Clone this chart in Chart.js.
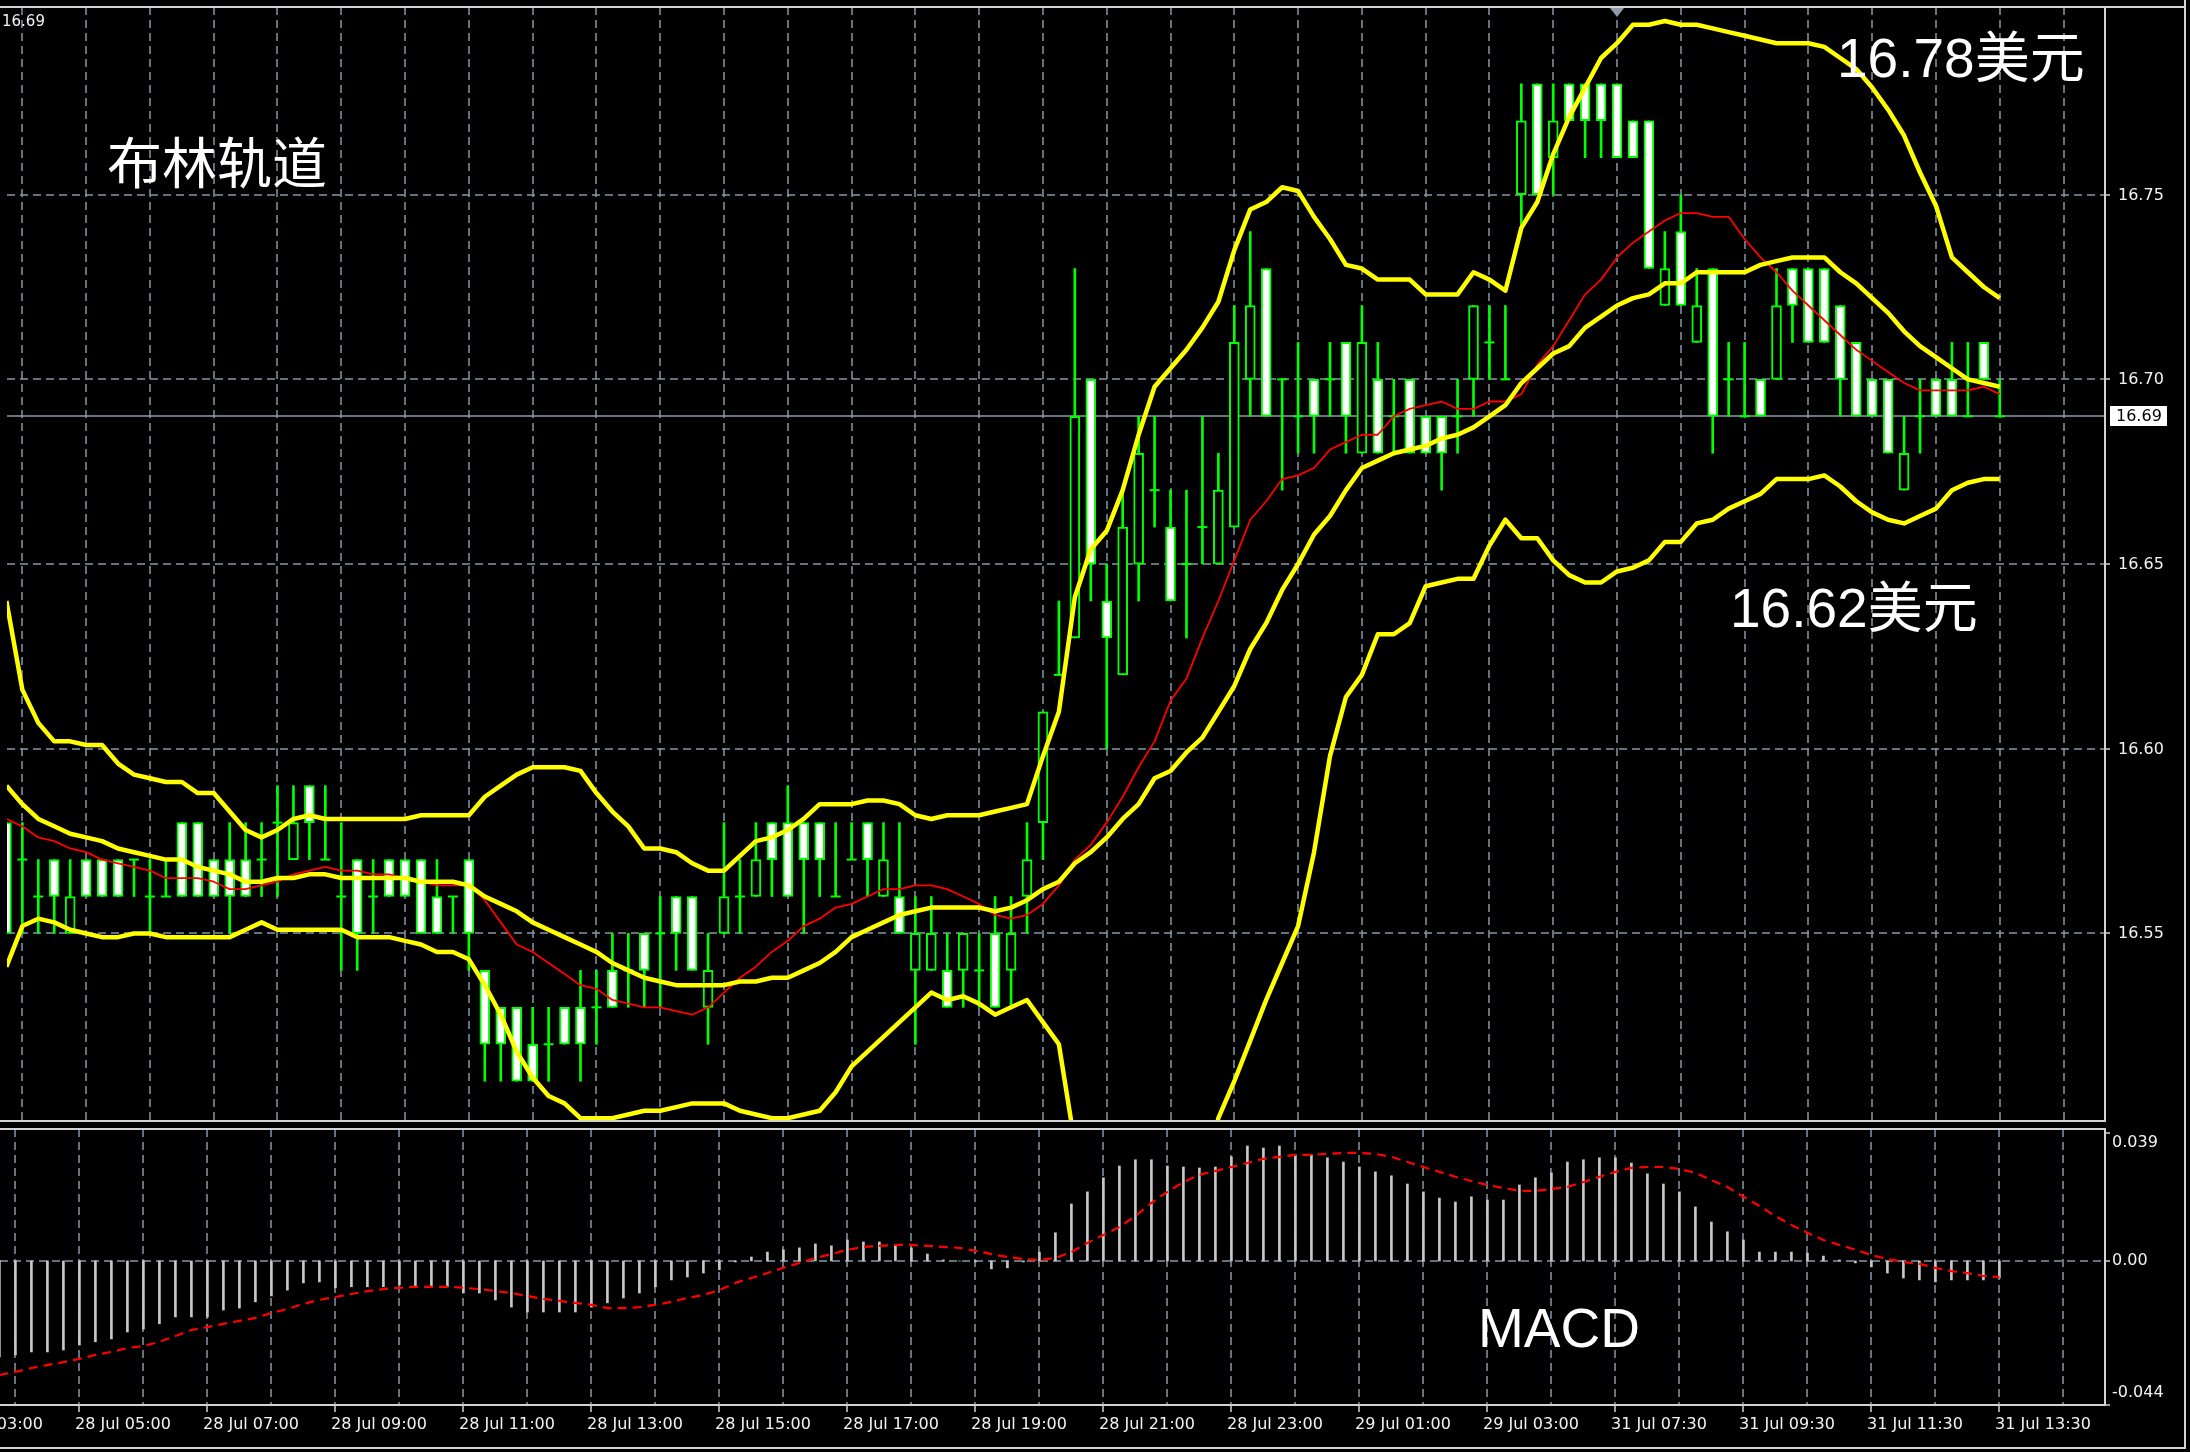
<!DOCTYPE html>
<html>
<head>
<meta charset="utf-8">
<title>XAGUSD M15 布林轨道 / MACD</title>
<script src="https://cdn.jsdelivr.net/npm/chart.js@4.4.1/dist/chart.umd.min.js"></script>
<style>
  html, body { margin: 0; padding: 0; background: #000; }
  body { width: 2190px; height: 1452px; position: relative; overflow: hidden; }
  canvas { position: absolute; left: 0; }
  #main { top: 0; width: 2190px; height: 1127px; }
  #macd { top: 1127px; width: 2190px; height: 325px; }
</style>
</head>
<body>
<canvas id="main" width="2190" height="1127"></canvas>
<canvas id="macd" width="2190" height="325"></canvas>
<script>
// 15-minute bars, oldest first
const open = [
  16.58,16.57,16.56,16.57,16.55,16.57,16.57,16.57,16.57,16.56,
  16.56,16.58,16.58,16.57,16.57,16.57,16.57,16.58,16.57,16.59,
  16.57,16.56,16.57,16.56,16.57,16.57,16.57,16.56,16.56,16.57,
  16.54,16.53,16.53,16.52,16.52,16.53,16.53,16.53,16.54,16.54,
  16.55,16.55,16.56,16.56,16.53,16.55,16.56,16.56,16.58,16.58,
  16.58,16.58,16.56,16.57,16.58,16.56,16.56,16.54,16.54,16.54,
  16.54,16.54,16.55,16.54,16.56,16.58,16.62,16.63,16.70,16.64,
  16.62,16.65,16.67,16.66,16.65,16.66,16.65,16.66,16.70,16.73,
  16.70,16.69,16.70,16.70,16.71,16.68,16.70,16.69,16.70,16.69,
  16.69,16.69,16.70,16.71,16.70,16.75,16.78,16.76,16.78,16.78,
  16.78,16.78,16.77,16.77,16.72,16.74,16.71,16.73,16.70,16.69,
  16.70,16.70,16.73,16.73,16.73,16.72,16.71,16.70,16.70,16.67,
  16.69,16.70,16.70,16.69,16.71,16.69
];
const high = [
  16.58,16.58,16.57,16.57,16.57,16.57,16.57,16.57,16.57,16.57,
  16.57,16.58,16.58,16.57,16.58,16.58,16.58,16.59,16.59,16.59,
  16.59,16.58,16.57,16.57,16.57,16.57,16.57,16.57,16.56,16.57,
  16.54,16.53,16.53,16.53,16.53,16.53,16.54,16.54,16.55,16.55,
  16.55,16.56,16.56,16.56,16.55,16.58,16.57,16.58,16.58,16.59,
  16.58,16.58,16.58,16.58,16.58,16.58,16.58,16.56,16.56,16.55,
  16.55,16.55,16.56,16.56,16.58,16.61,16.64,16.73,16.70,16.65,
  16.67,16.69,16.69,16.67,16.67,16.69,16.68,16.72,16.74,16.73,
  16.70,16.71,16.70,16.71,16.71,16.72,16.71,16.70,16.70,16.69,
  16.69,16.70,16.72,16.72,16.72,16.78,16.78,16.78,16.78,16.78,
  16.78,16.78,16.77,16.77,16.74,16.75,16.73,16.73,16.71,16.71,
  16.70,16.73,16.73,16.73,16.73,16.72,16.71,16.70,16.70,16.69,
  16.70,16.70,16.71,16.71,16.71,16.70
];
const low = [
  16.55,16.55,16.55,16.55,16.55,16.56,16.56,16.56,16.56,16.55,
  16.56,16.56,16.56,16.56,16.55,16.56,16.56,16.56,16.57,16.57,
  16.57,16.54,16.54,16.55,16.56,16.56,16.55,16.55,16.55,16.54,
  16.51,16.51,16.51,16.51,16.51,16.52,16.51,16.52,16.53,16.53,
  16.53,16.53,16.54,16.54,16.52,16.55,16.55,16.56,16.56,16.56,
  16.55,16.56,16.56,16.57,16.56,16.56,16.55,16.52,16.54,16.53,
  16.53,16.53,16.53,16.53,16.55,16.57,16.62,16.63,16.64,16.60,
  16.62,16.64,16.66,16.64,16.63,16.65,16.65,16.66,16.69,16.69,
  16.67,16.68,16.68,16.69,16.68,16.68,16.68,16.68,16.68,16.68,
  16.67,16.68,16.69,16.70,16.70,16.74,16.75,16.75,16.77,16.76,
  16.76,16.76,16.76,16.73,16.72,16.72,16.71,16.68,16.69,16.69,
  16.69,16.70,16.71,16.71,16.71,16.69,16.69,16.69,16.68,16.67,
  16.68,16.69,16.69,16.69,16.70,16.69
];
const close = [
  16.55,16.57,16.56,16.56,16.56,16.56,16.56,16.56,16.57,16.56,
  16.56,16.56,16.56,16.56,16.56,16.56,16.57,16.58,16.58,16.58,
  16.57,16.56,16.55,16.56,16.56,16.56,16.55,16.55,16.56,16.55,
  16.52,16.52,16.51,16.51,16.52,16.52,16.52,16.53,16.53,16.54,
  16.54,16.55,16.55,16.54,16.54,16.56,16.56,16.57,16.57,16.56,
  16.57,16.57,16.56,16.57,16.57,16.57,16.55,16.55,16.55,16.53,
  16.55,16.54,16.53,16.55,16.57,16.61,16.62,16.69,16.65,16.63,
  16.66,16.68,16.67,16.64,16.65,16.66,16.67,16.71,16.72,16.69,
  16.70,16.69,16.69,16.70,16.69,16.71,16.68,16.69,16.68,16.68,
  16.68,16.69,16.72,16.71,16.70,16.77,16.75,16.77,16.77,16.77,
  16.77,16.76,16.76,16.73,16.73,16.72,16.72,16.69,16.70,16.69,
  16.69,16.72,16.72,16.71,16.71,16.70,16.69,16.69,16.68,16.68,
  16.69,16.69,16.69,16.69,16.70,16.69
];

// Bollinger bands (yellow) and the thin red moving average
const upperBand = [
  16.640,16.616,16.607,16.602,16.602,16.601,16.601,16.596,16.593,16.592,
  16.591,16.591,16.588,16.588,16.583,16.578,16.576,16.578,16.581,16.582,
  16.581,16.581,16.581,16.581,16.581,16.581,16.582,16.582,16.582,16.582,
  16.587,16.590,16.593,16.595,16.595,16.595,16.594,16.588,16.583,16.579,
  16.573,16.573,16.572,16.569,16.567,16.567,16.571,16.575,16.576,16.578,
  16.581,16.585,16.585,16.585,16.586,16.586,16.585,16.582,16.581,16.582,
  16.582,16.582,16.583,16.584,16.585,16.598,16.610,16.641,16.654,16.659,
  16.670,16.685,16.698,16.703,16.708,16.714,16.721,16.735,16.746,16.748,
  16.752,16.751,16.744,16.738,16.731,16.730,16.727,16.727,16.727,16.723,
  16.723,16.723,16.729,16.727,16.724,16.741,16.748,16.761,16.771,16.779,
  16.787,16.791,16.796,16.796,16.797,16.796,16.796,16.795,16.794,16.793,
  16.792,16.791,16.791,16.791,16.790,16.787,16.784,16.779,16.773,16.766,
  16.756,16.747,16.733,16.729,16.725,16.722
];
const middleBand = [
  16.590,16.585,16.581,16.579,16.577,16.576,16.575,16.573,16.572,16.571,
  16.570,16.570,16.568,16.567,16.566,16.564,16.564,16.565,16.565,16.566,
  16.566,16.565,16.565,16.565,16.565,16.565,16.564,16.564,16.564,16.563,
  16.560,16.558,16.556,16.553,16.551,16.549,16.547,16.545,16.542,16.540,
  16.538,16.537,16.536,16.536,16.536,16.536,16.537,16.537,16.538,16.538,
  16.540,16.542,16.545,16.549,16.551,16.553,16.555,16.556,16.557,16.557,
  16.557,16.557,16.556,16.557,16.559,16.562,16.564,16.569,16.572,16.576,
  16.581,16.585,16.592,16.594,16.599,16.603,16.610,16.617,16.627,16.634,
  16.643,16.650,16.658,16.663,16.670,16.676,16.678,16.680,16.681,16.682,
  16.684,16.685,16.687,16.690,16.693,16.699,16.703,16.707,16.709,16.714,
  16.717,16.720,16.722,16.723,16.726,16.726,16.729,16.729,16.729,16.729,
  16.731,16.732,16.733,16.733,16.733,16.729,16.726,16.722,16.718,16.713,
  16.709,16.706,16.703,16.700,16.699,16.698
];
const lowerBand = [
  16.541,16.552,16.554,16.553,16.551,16.550,16.549,16.549,16.550,16.550,
  16.549,16.549,16.549,16.549,16.549,16.551,16.553,16.551,16.551,16.551,
  16.551,16.551,16.549,16.549,16.549,16.548,16.547,16.545,16.545,16.543,
  16.536,16.528,16.518,16.511,16.506,16.504,16.500,16.500,16.500,16.501,
  16.502,16.502,16.503,16.504,16.504,16.504,16.502,16.501,16.500,16.500,
  16.501,16.502,16.507,16.514,16.518,16.522,16.526,16.530,16.534,16.532,
  16.533,16.531,16.528,16.530,16.532,16.526,16.520,16.493,16.479,16.469,
  16.461,16.455,16.452,16.455,16.463,16.479,16.500,16.510,16.521,16.532,
  16.542,16.552,16.572,16.598,16.614,16.620,16.631,16.631,16.634,16.644,
  16.645,16.646,16.646,16.655,16.662,16.657,16.657,16.651,16.647,16.645,
  16.645,16.648,16.649,16.651,16.656,16.656,16.661,16.662,16.665,16.667,
  16.669,16.673,16.673,16.673,16.674,16.671,16.667,16.664,16.662,16.661,
  16.663,16.665,16.670,16.672,16.673,16.673
];
const maLine = [
  16.581,16.579,16.576,16.575,16.573,16.572,16.570,16.569,16.568,16.567,
  16.565,16.565,16.565,16.564,16.562,16.562,16.563,16.564,16.566,16.567,
  16.568,16.567,16.567,16.566,16.566,16.565,16.564,16.563,16.563,16.563,
  16.559,16.553,16.547,16.545,16.542,16.539,16.536,16.535,16.532,16.531,
  16.530,16.530,16.529,16.528,16.530,16.534,16.538,16.541,16.545,16.548,
  16.552,16.554,16.557,16.558,16.560,16.562,16.562,16.563,16.563,16.562,
  16.560,16.558,16.555,16.554,16.555,16.558,16.563,16.570,16.574,16.580,
  16.587,16.595,16.602,16.613,16.619,16.630,16.640,16.651,16.662,16.667,
  16.673,16.674,16.676,16.681,16.683,16.685,16.685,16.690,16.692,16.693,
  16.694,16.692,16.692,16.694,16.694,16.696,16.704,16.709,16.716,16.723,
  16.727,16.733,16.737,16.740,16.743,16.745,16.745,16.744,16.744,16.738,
  16.733,16.729,16.724,16.720,16.716,16.712,16.708,16.705,16.702,16.699,
  16.697,16.697,16.697,16.697,16.698,16.696
];

// MACD panel: histogram (main line) and dotted signal
const macdHist = [
  -0.0293,-0.0287,-0.0278,-0.0278,-0.0272,-0.0257,-0.0247,-0.0238,-0.0217,-0.0208,
  -0.0192,-0.0171,-0.0171,-0.0171,-0.0150,-0.0144,-0.0125,-0.0107,-0.0089,-0.0067,
  -0.0064,-0.0082,-0.0079,-0.0079,-0.0079,-0.0073,-0.0076,-0.0076,-0.0079,-0.0098,
  -0.0098,-0.0119,-0.0141,-0.0156,-0.0156,-0.0156,-0.0156,-0.0141,-0.0128,-0.0113,
  -0.0098,-0.0079,-0.0058,-0.0049,-0.0037,-0.0027,-0.0003,0.0012,0.0027,0.0034,
  0.0040,0.0052,0.0046,0.0064,0.0058,0.0058,0.0049,0.0040,0.0021,0.0003,
  0.0000,-0.0003,-0.0024,-0.0021,-0.0003,0.0027,0.0086,0.0174,0.0211,0.0254,
  0.0290,0.0309,0.0309,0.0290,0.0287,0.0284,0.0287,0.0318,0.0351,0.0345,
  0.0351,0.0324,0.0324,0.0315,0.0302,0.0287,0.0272,0.0260,0.0235,0.0211,
  0.0192,0.0180,0.0196,0.0186,0.0186,0.0232,0.0254,0.0269,0.0302,0.0309,
  0.0315,0.0315,0.0299,0.0266,0.0235,0.0211,0.0165,0.0119,0.0089,0.0064,
  0.0027,0.0027,0.0027,0.0024,0.0015,0.0003,-0.0006,-0.0018,-0.0037,-0.0052,
  -0.0058,-0.0064,-0.0058,-0.0058,-0.0058,-0.0052
];
const macdSignal = [
  -0.0348,-0.0339,-0.0327,-0.0318,-0.0309,-0.0299,-0.0287,-0.0278,-0.0266,-0.0260,
  -0.0247,-0.0229,-0.0211,-0.0202,-0.0192,-0.0183,-0.0174,-0.0159,-0.0147,-0.0131,
  -0.0119,-0.0110,-0.0101,-0.0092,-0.0086,-0.0082,-0.0079,-0.0079,-0.0079,-0.0082,
  -0.0086,-0.0092,-0.0098,-0.0107,-0.0116,-0.0122,-0.0128,-0.0134,-0.0144,-0.0144,
  -0.0141,-0.0134,-0.0125,-0.0113,-0.0104,-0.0089,-0.0067,-0.0052,-0.0037,-0.0021,
  -0.0006,0.0009,0.0021,0.0034,0.0043,0.0046,0.0049,0.0049,0.0046,0.0043,
  0.0040,0.0031,0.0021,0.0012,0.0006,0.0003,0.0009,0.0027,0.0055,0.0079,
  0.0104,0.0137,0.0177,0.0211,0.0241,0.0263,0.0275,0.0287,0.0299,0.0312,
  0.0318,0.0324,0.0324,0.0327,0.0330,0.0330,0.0327,0.0318,0.0302,0.0287,
  0.0272,0.0257,0.0244,0.0232,0.0223,0.0214,0.0214,0.0220,0.0226,0.0241,
  0.0257,0.0272,0.0284,0.0287,0.0287,0.0281,0.0269,0.0247,0.0226,0.0196,
  0.0168,0.0137,0.0110,0.0086,0.0064,0.0049,0.0034,0.0018,0.0006,-0.0003,
  -0.0009,-0.0021,-0.0031,-0.0037,-0.0046,-0.0049
];

const priceTicks = [16.55, 16.60, 16.65, 16.70, 16.75];
const macdTicks = [0.039, 0, -0.044];
const timeLabels = [
  '28 Jul 03:00', '28 Jul 05:00', '28 Jul 07:00', '28 Jul 09:00', '28 Jul 11:00',
  '28 Jul 13:00', '28 Jul 15:00', '28 Jul 17:00', '28 Jul 19:00', '28 Jul 21:00',
  '28 Jul 23:00', '29 Jul 01:00', '29 Jul 03:00', '31 Jul 07:30', '31 Jul 09:30',
  '31 Jul 11:30', '31 Jul 13:30'
];
const timeBars = [-3, 5, 13, 21, 29, 37, 45, 53, 61, 69, 77, 85, 93, 101, 109, 117, 125];

const bars = close.map((c, i) => i);
const lastPrice = close[close.length - 1];

const LIME = '#00ff00';
const GRID = '#8796a7';
const FRAME = '#d2d2d2';
const TEXT = '#f2f2f2';
const AXIS_FONT = '16px "DejaVu Sans", sans-serif';
const X_MIN = 0.0375, X_MAX = 131.6;   // 16 px per bar, chart area 2105 px wide

function seg(ctx, x1, y1, x2, y2) {
  ctx.beginPath();
  ctx.moveTo(x1, y1);
  ctx.lineTo(x2, y2);
  ctx.stroke();
}

// vertical dotted grid, one line per hour (every 4 bars)
function hourGrid(chart) {
  const { ctx, chartArea: a, scales: { x } } = chart;
  ctx.save();
  ctx.strokeStyle = GRID;
  ctx.lineWidth = 1.5;
  ctx.setLineDash([8, 5]);
  for (let k = 1; k <= 129; k += 4) {
    const px = Math.round(x.getPixelForValue(k));
    if (px > a.left && px < a.right) seg(ctx, px, a.top, px, a.bottom);
  }
  ctx.restore();
}

const mainDecor = {
  id: 'mainDecor',
  beforeDatasetsDraw(chart) {
    const { ctx, chartArea: a, scales: { y } } = chart;
    hourGrid(chart);
    ctx.save();
    ctx.strokeStyle = GRID;
    ctx.lineWidth = 1.5;
    ctx.setLineDash([8, 5]);
    priceTicks.forEach(v => {
      const py = Math.round(y.getPixelForValue(v));
      seg(ctx, a.left, py, a.right, py);
    });
    ctx.setLineDash([]);
    ctx.strokeStyle = '#8d9bab';
    const py = Math.round(y.getPixelForValue(lastPrice));
    seg(ctx, a.left, py, a.right, py);
    ctx.restore();
  },
  afterDraw(chart) {
    const { ctx, chartArea: a, scales: { x, y } } = chart;
    ctx.save();
    ctx.strokeStyle = FRAME;
    ctx.lineWidth = 2;
    seg(ctx, 0, a.top, 2186, a.top);
    seg(ctx, a.right, a.top, a.right, a.bottom + 2);
    seg(ctx, 0, a.bottom + 1, a.right, a.bottom + 1);
    seg(ctx, 2185, 0, 2185, chart.height);

    // right price scale
    ctx.font = AXIS_FONT;
    ctx.fillStyle = TEXT;
    ctx.textBaseline = 'middle';
    ctx.textAlign = 'left';
    ctx.lineWidth = 1.5;
    priceTicks.forEach(v => {
      const py = Math.round(y.getPixelForValue(v));
      seg(ctx, a.right, py, a.right + 5, py);
      ctx.fillText(v.toFixed(2), a.right + 13, py + 1);
    });

    // last price tag
    const py = Math.round(y.getPixelForValue(lastPrice));
    ctx.fillStyle = '#ffffff';
    ctx.fillRect(a.right + 5, py - 10, 57, 20);
    ctx.fillStyle = '#000000';
    ctx.fillText(lastPrice.toFixed(2), a.right + 11, py + 1);

    // caption in the corner
    ctx.fillStyle = TEXT;
    ctx.font = '15px "DejaVu Sans", sans-serif';
    ctx.fillText(lastPrice.toFixed(2), 2, 22);

    // chart shift marker
    const sx = x.getPixelForValue(101);
    ctx.fillStyle = '#8d9bab';
    ctx.beginPath();
    ctx.moveTo(sx - 7, a.top + 1);
    ctx.lineTo(sx + 7, a.top + 1);
    ctx.lineTo(sx, a.top + 10);
    ctx.closePath();
    ctx.fill();

    // annotations
    ctx.fillStyle = '#ffffff';
    ctx.textBaseline = 'alphabetic';
    ctx.font = '55px "Noto Sans CJK SC", sans-serif';
    ctx.fillText('布林轨道', 107, 183);
    ctx.font = '55px "Liberation Sans", "Noto Sans CJK SC", sans-serif';
    ctx.fillText('16.78美元', 1837, 77);
    ctx.fillText('16.62美元', 1730, 627);
    ctx.restore();
  }
};

const macdDecor = {
  id: 'macdDecor',
  beforeDatasetsDraw(chart) {
    const { ctx, chartArea: a, scales: { y } } = chart;
    hourGrid(chart);
    ctx.save();
    ctx.strokeStyle = GRID;
    ctx.lineWidth = 1.5;
    ctx.setLineDash([8, 5]);
    const zy = Math.round(y.getPixelForValue(0));
    seg(ctx, a.left, zy, a.right, zy);
    ctx.restore();
  },
  afterDraw(chart) {
    const { ctx, chartArea: a, scales: { x, y } } = chart;
    ctx.save();
    ctx.strokeStyle = FRAME;
    ctx.lineWidth = 2;
    seg(ctx, 0, a.top, a.right, a.top);
    seg(ctx, a.right, a.top - 1, a.right, a.bottom + 1);
    seg(ctx, 0, a.bottom, a.right, a.bottom);
    seg(ctx, 2185, 0, 2185, 321);
    seg(ctx, 0, 321, 2186, 321);

    ctx.font = AXIS_FONT;
    ctx.fillStyle = TEXT;
    ctx.textBaseline = 'middle';
    ctx.textAlign = 'left';
    ctx.lineWidth = 1.5;
    const labelShift = [10, 0, -12];
    macdTicks.forEach((v, i) => {
      const py = Math.round(y.getPixelForValue(v));
      seg(ctx, a.right, py, a.right + 5, py);
      ctx.fillText(v === 0 ? '0.00' : v.toFixed(3), a.right + 7, py + labelShift[i]);
    });

    // time axis
    timeBars.forEach((k, i) => {
      const px = Math.round(x.getPixelForValue(k));
      if (px >= 0) seg(ctx, px, a.bottom, px, a.bottom + 7);
      ctx.fillText(timeLabels[i], px - 4, a.bottom + 20);
    });

    ctx.fillStyle = '#ffffff';
    ctx.textBaseline = 'alphabetic';
    ctx.font = '55px "Liberation Sans", sans-serif';
    ctx.fillText('MACD', 1478, 220);
    ctx.restore();
  }
};

const baseOptions = {
  responsive: false,
  animation: false,
  devicePixelRatio: 1,
  events: [],
  plugins: { legend: { display: false }, tooltip: { enabled: false } }
};

const lineSet = (label, values, color, width, order) => ({
  type: 'line',
  label,
  data: bars.map(i => ({ x: i, y: values[i] })),
  borderColor: color,
  borderWidth: width,
  borderJoinStyle: 'round',
  pointRadius: 0,
  tension: 0,
  clip: 0,
  order
});

new Chart(document.getElementById('main'), {
  type: 'bar',
  data: {
    datasets: [
      lineSet('Upper', upperBand, '#ffff00', 4.5, 0),
      lineSet('Middle', middleBand, '#ffff00', 4.5, 0),
      lineSet('Lower', lowerBand, '#ffff00', 4.5, 0),
      lineSet('MA', maLine, '#ff0000', 1.8, 1),
      {
        type: 'scatter',
        label: 'Doji',
        data: bars.filter(i => open[i] === close[i]).map(i => ({ x: i, y: close[i] })),
        pointStyle: 'line',
        pointRadius: 5,
        pointBorderWidth: 2,
        pointBorderColor: LIME,
        showLine: false,
        clip: 0,
        order: 2
      },
      {
        type: 'bar',
        label: 'Body',
        data: bars.filter(i => open[i] !== close[i]).map(i => ({ x: i, y: [open[i], close[i]] })),
        backgroundColor: ctx => (close[ctx.raw.x] < open[ctx.raw.x] ? '#ffffff' : '#000000'),
        borderColor: LIME,
        borderWidth: 2,
        borderSkipped: false,
        barThickness: 10,
        grouped: false,
        clip: 0,
        order: 3
      },
      {
        type: 'bar',
        label: 'Wick',
        data: bars.map(i => ({ x: i, y: [low[i], high[i]] })),
        backgroundColor: LIME,
        borderWidth: 0,
        barThickness: 2,
        grouped: false,
        clip: 0,
        order: 4
      }
    ]
  },
  options: {
    ...baseOptions,
    layout: { padding: { left: 0, right: 85, top: 4, bottom: 2 } },
    scales: {
      x: { type: 'linear', min: X_MIN, max: X_MAX, offset: false, display: false },
      y: { type: 'linear', min: 16.4995, max: 16.8008, beginAtZero: false, display: false }
    }
  },
  plugins: [mainDecor]
});

new Chart(document.getElementById('macd'), {
  type: 'bar',
  data: {
    datasets: [
      {
        type: 'line',
        label: 'Signal',
        data: bars.map(i => ({ x: i, y: macdSignal[i] })),
        borderColor: '#ff0000',
        borderWidth: 2.2,
        borderDash: [9, 6],
        pointRadius: 0,
        tension: 0,
        clip: 0,
        order: 0
      },
      {
        type: 'bar',
        label: 'MACD',
        data: bars.map(i => ({ x: i, y: macdHist[i] })),
        backgroundColor: '#c8c8c8',
        borderWidth: 0,
        barThickness: 2,
        grouped: false,
        clip: 0,
        order: 1
      }
    ]
  },
  options: {
    ...baseOptions,
    layout: { padding: { left: 0, right: 85, top: 2, bottom: 47 } },
    scales: {
      x: { type: 'linear', min: X_MIN, max: X_MAX, offset: false, display: false },
      y: { type: 'linear', min: -0.044, max: 0.0403, display: false }
    }
  },
  plugins: [macdDecor]
});
</script>
</body>
</html>
